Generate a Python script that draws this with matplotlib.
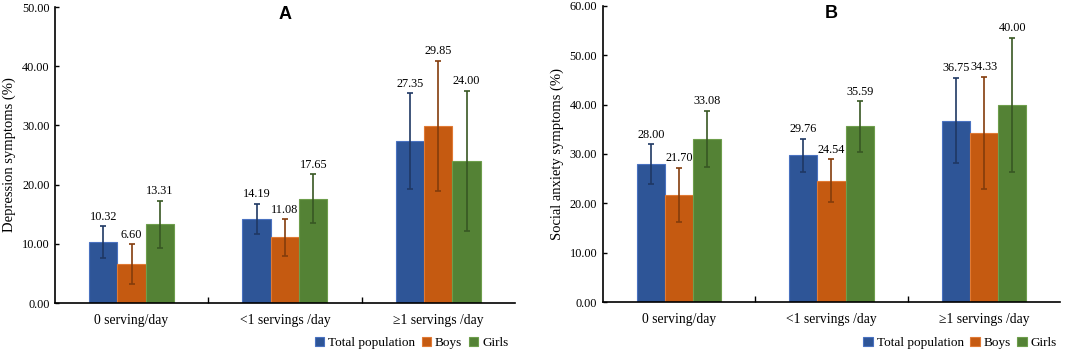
import matplotlib
matplotlib.use("Agg")
import matplotlib.pyplot as plt
import numpy as np

plt.rcParams['font.family'] = ['Liberation Serif', 'DejaVu Serif']

categories = ["0 serving/day", "<1 servings /day", "\u22651 servings /day"]
series = ["Total population", "Boys", "Girls"]

# panel A: depression symptoms (%)
dep_values = [[10.32, 14.19, 27.35],
              [6.60, 11.08, 29.85],
              [13.31, 17.65, 24.00]]
dep_low = [[7.6, 11.7, 19.3],
           [3.2, 8.0, 18.9],
           [9.3, 13.6, 12.2]]
dep_high = [[13.0, 16.8, 35.4],
            [9.9, 14.2, 40.9],
            [17.3, 21.8, 35.9]]

# panel B: social anxiety symptoms (%)
anx_values = [[28.00, 29.76, 36.75],
              [21.70, 24.54, 34.33],
              [33.08, 35.59, 40.00]]
anx_low = [[24.0, 26.3, 28.1],
           [16.2, 20.2, 22.9],
           [27.4, 30.4, 26.3]]
anx_high = [[32.0, 33.1, 45.5],
            [27.2, 28.9, 45.7],
            [38.8, 40.7, 53.6]]

fill = ["#2E5597", "#C55A11", "#548235"]
edge = ["#4A72C0", "#E07A35", "#6E9E4C"]
errc = ["#1F3864", "#843C0C", "#385723"]


def panel(ax, values, low, high, ymax, ylabel, letter, legend_x):
    x = np.arange(len(categories))
    w = 0.185
    handles = []
    for i in range(3):
        v = np.array(values[i])
        lo = v - np.array(low[i])
        hi = np.array(high[i]) - v
        pos = x + (i - 1) * w
        b = ax.bar(pos, v, w, color=fill[i], edgecolor=edge[i], linewidth=0.8,
                   label=series[i], zorder=2)
        handles.append(b)
        ax.errorbar(pos, v, yerr=[lo, hi], fmt='none', ecolor=errc[i],
                    elinewidth=1.2, capsize=2.5, capthick=1.2, zorder=3)
        for p, val, top in zip(pos, v, high[i]):
            ax.annotate("%.2f" % val, (p, top), xytext=(0, 2.5),
                        textcoords='offset points', ha='center', va='bottom',
                        fontsize=8.8)
    ax.set_xlim(-0.5, 2.5)
    ax.set_ylim(0, ymax)
    ax.set_yticks(np.arange(0, ymax + 1, 10))
    ax.set_yticklabels(["%.2f" % t for t in np.arange(0, ymax + 1, 10)],
                       fontsize=8.8)
    ax.set_xticks(x)
    ax.set_xticklabels(categories, fontsize=9.8)
    ax.set_xticks([0.5, 1.5], minor=True)
    ax.tick_params(axis='x', which='major', length=0, pad=8)
    ax.tick_params(axis='x', which='minor', direction='in', length=4, width=1)
    ax.tick_params(axis='y', direction='in', length=3, width=1, pad=4)
    for s in ['top', 'right']:
        ax.spines[s].set_visible(False)
    for s in ['left', 'bottom']:
        ax.spines[s].set_linewidth(1.2)
    ax.set_ylabel(ylabel, fontsize=10.5, labelpad=4)
    ax.text(0.5, 0.975, letter, transform=ax.transAxes, ha='center', va='center',
            fontsize=13, fontweight='bold', family='Liberation Sans')
    ax.legend(handles, series, loc='center right', ncol=3, frameon=False,
              bbox_to_anchor=(legend_x, 0.026), bbox_transform=fig.transFigure,
              fontsize=9.5, handlelength=0.7, handleheight=0.7,
              handletextpad=0.3, columnspacing=0.5, borderaxespad=0,
              borderpad=0)


fig = plt.figure(figsize=(10.84, 3.52), dpi=100)
ax1 = fig.add_axes([0.0507, 0.139, 0.4243, 0.841])
ax2 = fig.add_axes([0.556, 0.142, 0.422, 0.841])

panel(ax1, dep_values, dep_low, dep_high, 50, "Depression symptoms (%)", "A", 0.469)
panel(ax2, anx_values, anx_low, anx_high, 60, "Social anxiety symptoms (%)", "B", 0.975)

fig.savefig("out.png", dpi=100)
